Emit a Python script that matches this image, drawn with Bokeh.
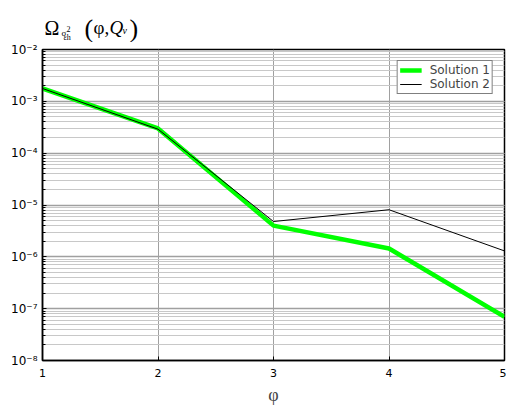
from bokeh.plotting import figure
from bokeh.layouts import column
from bokeh.models import Legend, LegendItem, FixedTicker, LogTicker, Range1d
from bokeh.core.properties import value
from bokeh.embed import file_html
from bokeh.resources import INLINE

phi = [1, 2, 3, 4, 5]
solution1 = [1.77e-3, 3.0e-4, 4.0e-6, 1.45e-6, 7.0e-8]
solution2 = [1.77e-3, 2.9e-4, 4.8e-6, 8.1e-6, 1.3e-6]
y_ticks = [1e-8, 1e-7, 1e-6, 1e-5, 1e-4, 1e-3, 1e-2]
y_tick_labels = ["10⁻⁸", "10⁻⁷", "10⁻⁶", "10⁻⁵", "10⁻⁴", "10⁻³", "10⁻²"]
x_ticks = [1, 2, 3, 4, 5]

W = 506
TOP = 42          # height of the title strip
BT = 49 - TOP     # main plot top border so its frame starts at page y = 49
BL, BR, BB = 42, 2, 50
MAIN_H = 410 - TOP

# --- title strip: Ω_{σ²εh}(φ, Q_v) ---
# its frame is aligned with the main plot frame (x from BL to W-BR), so use page pixels
t = figure(width=W, height=TOP, x_range=Range1d(BL, W - BR), y_range=Range1d(TOP, 0),
           output_backend="svg", toolbar_location=None,
           x_axis_location=None, y_axis_location=None,
           min_border_left=BL, min_border_right=BR, min_border_top=0, min_border_bottom=0)
t.outline_line_color = None
t.grid.visible = False
t.background_fill_color = "white"
t.border_fill_color = "white"

def piece(x, baseline, text, size, style="normal"):
    t.text(x=[x], y=[baseline], text=[text], text_font=value("Liberation Serif"),
           text_font_size=value(size), text_font_style=style, text_color="#000000",
           text_baseline="alphabetic", text_align="left")

piece(44, 27, "Ω", "20px")
piece(61, 32, "σ", "9px")
piece(66, 28, "2", "8px")
piece(63, 37, "εh", "8px")
piece(84, 28, "(", "26px")
piece(93, 27, "φ,", "19px")
piece(109, 27, "Q", "19px", "italic")
piece(122, 30, "v", "10px", "italic")
piece(129, 28, ")", "26px")

# --- main plot ---
p = figure(width=W, height=MAIN_H, y_axis_type="log", x_range=(1, 5), y_range=(1e-8, 1e-2),
           output_backend="svg", toolbar_location=None,
           min_border_left=BL, min_border_right=BR, min_border_top=BT, min_border_bottom=BB)
p.background_fill_color = "white"
p.border_fill_color = "white"
p.outline_line_color = "black"
p.outline_line_width = 1.5

r1 = p.line(phi, solution1, line_color="#00ff00", line_width=4.5)
r2 = p.line(phi, solution2, line_color="black", line_width=1)

p.yaxis.ticker = LogTicker(desired_num_ticks=7, num_minor_ticks=10)
p.yaxis.major_label_overrides = {tk: lb for tk, lb in zip(y_ticks, y_tick_labels)}
p.xaxis.ticker = FixedTicker(ticks=x_ticks)

for ax in (p.xaxis[0], p.yaxis[0]):
    ax.axis_line_color = "black"
    ax.axis_line_width = 1.5
    ax.major_tick_in = 4
    ax.major_tick_out = 0
    ax.minor_tick_in = 3
    ax.minor_tick_out = 0
    ax.major_tick_line_color = "black"
    ax.minor_tick_line_color = "black"
    ax.major_label_text_font = "DejaVu Sans"
    ax.major_label_text_font_size = "11px"
    ax.major_label_text_color = "black"

p.yaxis.major_label_text_font_size = "12px"
p.xaxis.major_label_standoff = 8
p.yaxis.major_label_standoff = 5
p.xaxis.axis_label = "φ"
p.xaxis.axis_label_text_font = "Liberation Serif"
p.xaxis.axis_label_text_font_style = "normal"
p.xaxis.axis_label_text_font_size = "18px"
p.xaxis.axis_label_standoff = 5

p.xgrid.grid_line_color = "#a0a0a0"
p.xgrid.grid_line_width = 1
p.ygrid.grid_line_color = "#a0a0a0"
p.ygrid.grid_line_width = 1.5
p.ygrid.minor_grid_line_color = "#c8c8c8"
p.ygrid.minor_grid_line_width = 1

legend = Legend(items=[LegendItem(label="Solution 1", renderers=[r1]),
                       LegendItem(label="Solution 2", renderers=[r2])],
                location="top_right")
legend.border_line_color = "black"
legend.border_line_width = 1.5
legend.label_text_font = "DejaVu Sans"
legend.label_text_font_size = "12px"
legend.glyph_width = 22
legend.glyph_height = 14
legend.label_height = 14
legend.label_standoff = 8
legend.spacing = 0
legend.padding = 2
legend.margin = 11
legend.background_fill_alpha = 1
p.add_layout(legend)

layout = column(t, p, spacing=0)
open("out.html", "w").write(file_html(layout, INLINE))
